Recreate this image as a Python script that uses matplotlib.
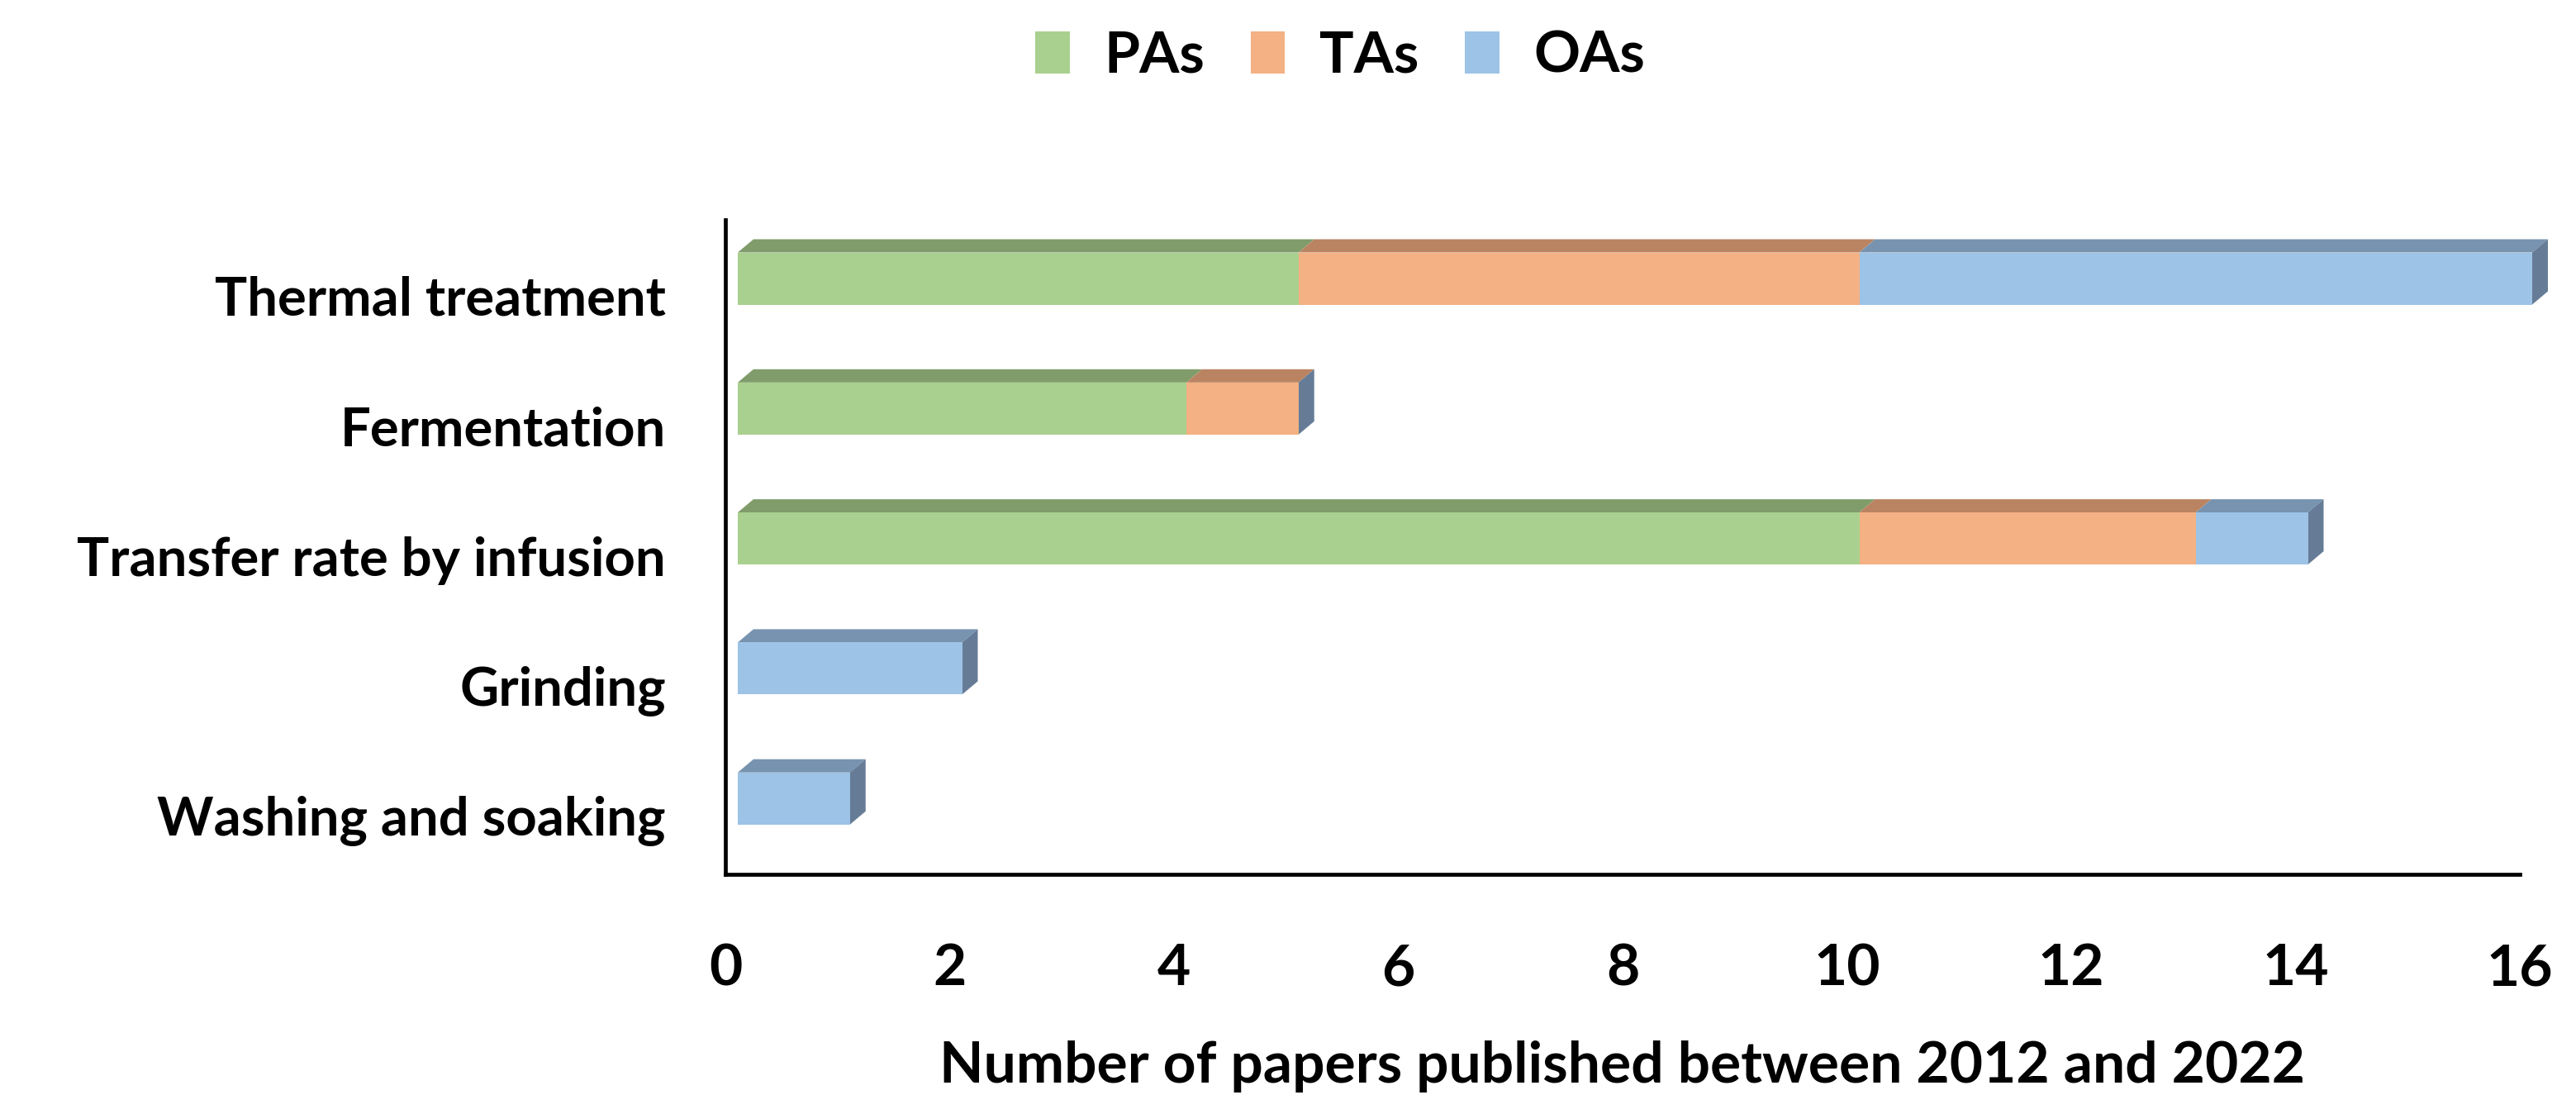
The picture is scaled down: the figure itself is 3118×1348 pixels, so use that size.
import matplotlib
matplotlib.use("Agg")
import matplotlib.pyplot as plt
from matplotlib.patches import Polygon, Patch
from matplotlib.transforms import ScaledTranslation

# data
categories = ["Thermal treatment", "Fermentation", "Transfer rate by infusion",
              "Grinding", "Washing and soaking"]
series_names = ["PAs", "TAs", "OAs"]
pas = [5, 4, 10, 0, 0]
tas = [5, 1, 3, 0, 0]
oas = [6, 0, 1, 2, 1]
x_ticks = [0, 2, 4, 6, 8, 10, 12, 14, 16]

front_colors = ["#A9D08E", "#F4B183", "#9DC3E6"]
top_colors = ["#809C6B", "#BA8462", "#7793B0"]
side_color = "#667C96"

plt.rcParams["font.family"] = ["Lato", "DejaVu Sans"]
plt.rcParams["font.weight"] = "bold"

DPI = 100
W, H = 3118, 1348
fig = plt.figure(figsize=(W / DPI, H / DPI), dpi=DPI)

# axes box in pixels (from reference)
x0_px, x1_px = 878, 3050
y_top_px, y_bot_px = 266, 1058
ax = fig.add_axes([x0_px / W, 1 - y_bot_px / H, (x1_px - x0_px) / W, (y_bot_px - y_top_px) / H])

first_center, step = 337, 157.3
ax.set_xlim(0, 16)
ax.set_ylim((y_bot_px - first_center) / step, (y_top_px - first_center) / step)

px_per_x = (x1_px - x0_px) / 16
px_per_y = step
dx = 19 / px_per_x      # depth of the 3d effect, in data units
dy = 16 / px_per_y
bar_h = 63 / px_per_y

# bars sit a little right of the axis like the Excel 3d floor
shift = ax.transData + ScaledTranslation(15 / DPI, 0, fig.dpi_scale_trans)

values = [pas, tas, oas]
for i, cat in enumerate(categories):
    left = 0
    top_y = i - bar_h / 2
    for s in range(3):
        v = values[s][i]
        if v <= 0:
            continue
        ax.barh(i, v, left=left, height=bar_h, color=front_colors[s],
                transform=shift, clip_on=False, zorder=3)
        top = Polygon([(left, top_y), (left + v, top_y),
                       (left + v + dx, top_y - dy), (left + dx, top_y - dy)],
                      closed=True, facecolor=top_colors[s], edgecolor="none",
                      transform=shift, clip_on=False, zorder=2)
        ax.add_patch(top)
        left += v
    side = Polygon([(left, top_y), (left + dx, top_y - dy),
                    (left + dx, i + bar_h / 2 - dy), (left, i + bar_h / 2)],
                   closed=True, facecolor=side_color, edgecolor="none",
                   transform=shift, clip_on=False, zorder=2)
    ax.add_patch(side)

for sp in ["top", "right"]:
    ax.spines[sp].set_visible(False)
for sp in ["left", "bottom"]:
    ax.spines[sp].set_linewidth(3.4)
    ax.spines[sp].set_color("black")

ax.set_yticks(range(len(categories)))
ax.set_yticklabels(categories, fontsize=47, fontweight="bold")
ax.tick_params(axis="y", length=0, pad=52)
for lbl in ax.get_yticklabels():
    lbl.set_transform(lbl.get_transform() + ScaledTranslation(0, -21 / DPI, fig.dpi_scale_trans))

ax.set_xticks(x_ticks)
ax.set_xticklabels([str(t) for t in x_ticks], fontsize=50, fontweight="bold")
ax.tick_params(axis="x", length=0, pad=60)

ax.set_xlabel("Number of papers published between 2012 and 2022", fontsize=50,
              fontweight="bold", va="center")
ax.xaxis.set_label_coords(0.5, (y_bot_px - 1290) / (y_bot_px - y_top_px))

handles = [Patch(facecolor=c, edgecolor="none") for c in front_colors]
fig.legend(handles, series_names, loc="center", bbox_to_anchor=(1622 / W, 1 - 68 / H),
           ncol=3, frameon=False, handlelength=0.6, handleheight=0.75,
           handletextpad=0.6, columnspacing=0.8, prop={"weight": "bold", "size": 50})

fig.savefig("out.png", dpi=DPI)
